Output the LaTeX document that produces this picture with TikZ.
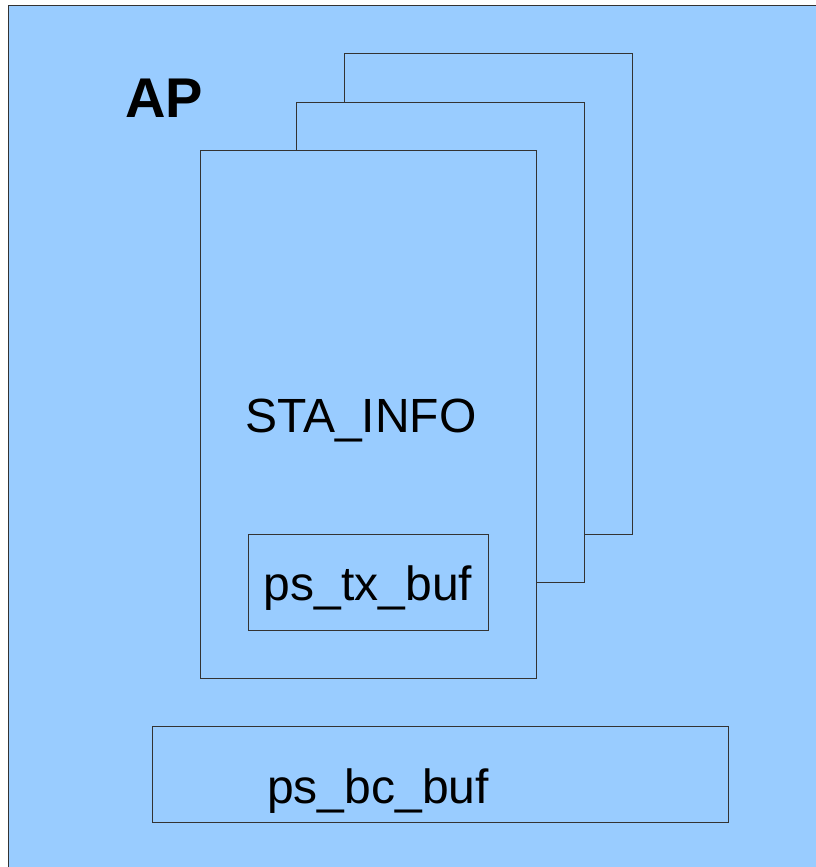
\documentclass[tikz,border=0pt]{standalone}
\usepackage{fontspec}
\setmainfont{Liberation Sans}
\definecolor{apblue}{HTML}{99CCFF}
\definecolor{apedge}{HTML}{333333}

\begin{document}
\begin{tikzpicture}[x=1pt,y=-1pt,
    box/.style={draw=apedge,fill=apblue,line width=1pt},
    lbl/.style={anchor=base,inner sep=0pt,font=\fontsize{48}{54}\selectfont}]
  \useasboundingbox (0,0) rectangle (816,867);
  \clip (0,0) rectangle (816,867);
  \path[box] (8,6) rectangle (830,880);
  \node[anchor=base,inner sep=0pt,font=\fontsize{56}{60}\selectfont\bfseries] (ap) at (164,117) {AP};
  % stacked STA_INFO cards, back to front
  \path[box] (344,54) rectangle (632,534);
  \path[box] (296,102) rectangle (584,582);
  \path[box] (200,150) rectangle (536,678);
  \node[lbl] (sta) at (361,432) {STA\_INFO};
  \path[box] (248,534) rectangle (488,630);
  \node[lbl] (txbuf) at (368,600) {ps\_tx\_buf};
  \path[box] (152,726) rectangle (728,822);
  \node[lbl] (bcbuf) at (378,803) {ps\_bc\_buf};
\end{tikzpicture}
\end{document}
